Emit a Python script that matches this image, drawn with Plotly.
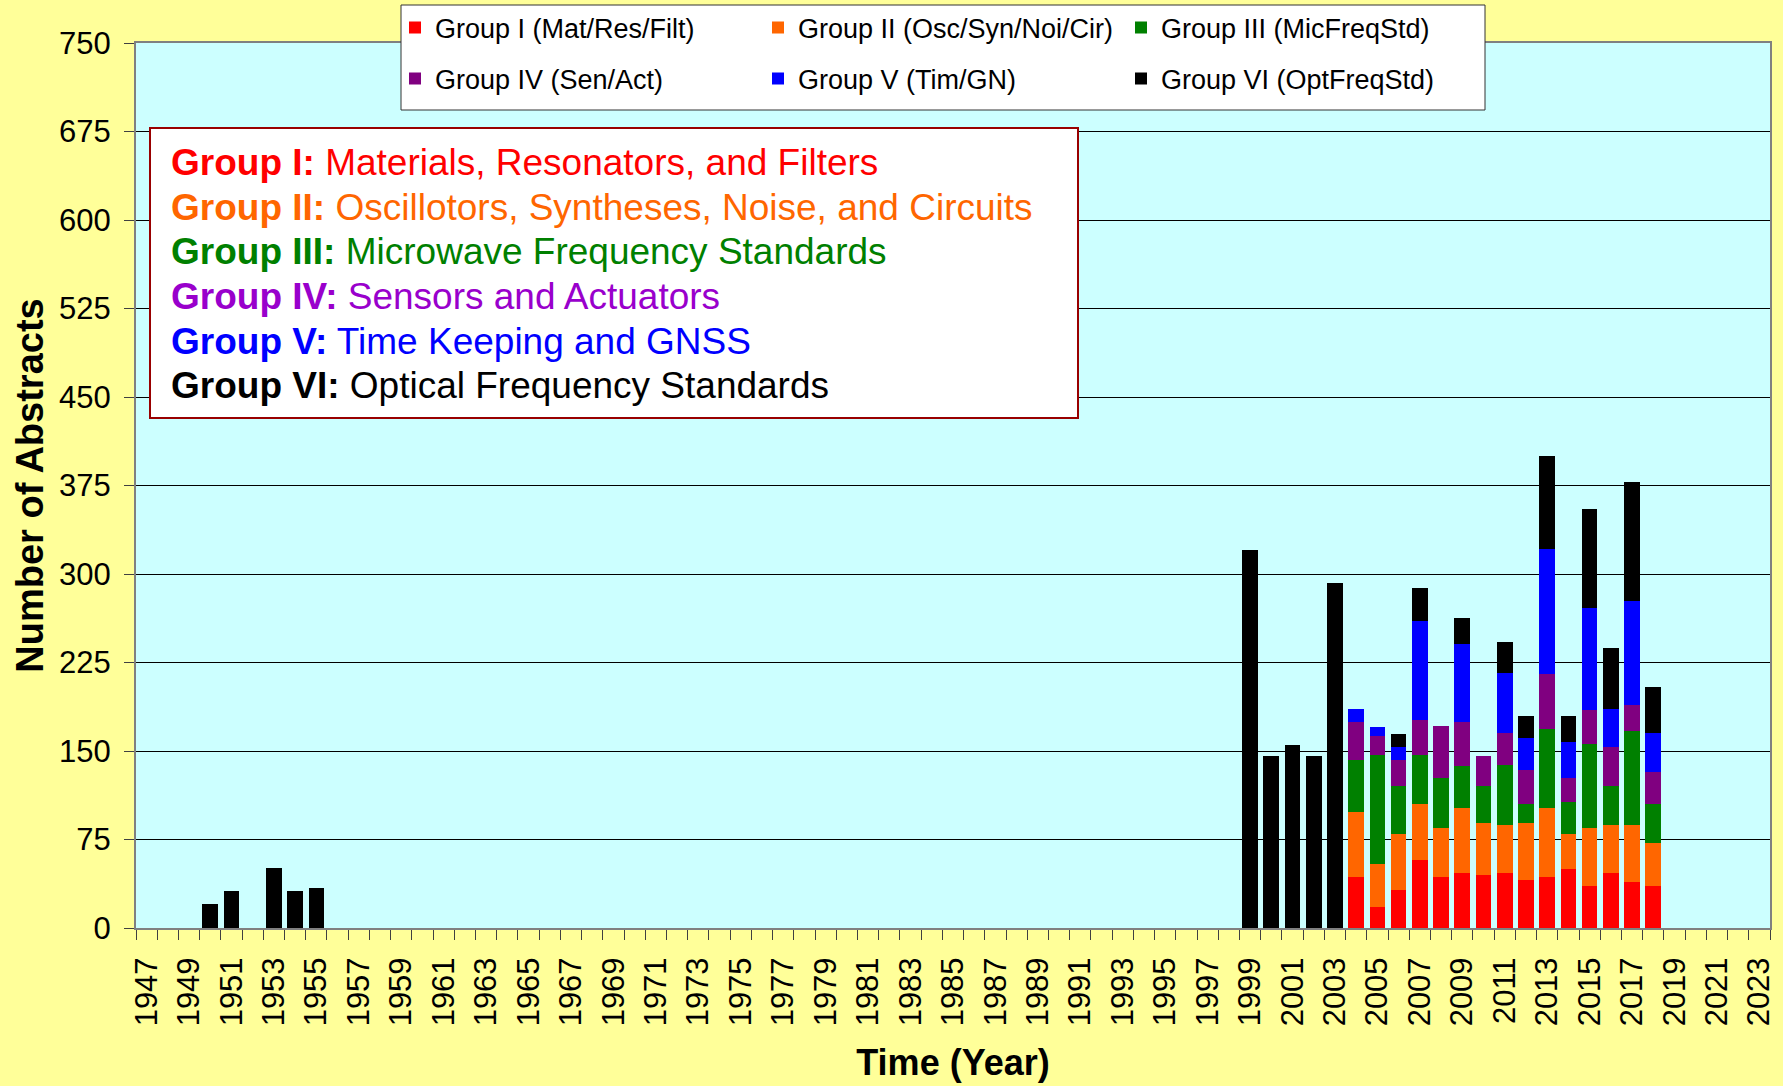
import plotly.graph_objects as go

# Abstract counts per year, one list per group (same order as `years`).
years = [1950, 1951, 1953, 1954, 1955,
         1999, 2000, 2001, 2002, 2003,
         2004, 2005, 2006, 2007, 2008, 2009, 2010, 2011,
         2012, 2013, 2014, 2015, 2016, 2017, 2018]

group_1 = [0, 0, 0, 0, 0, 0, 0, 0, 0, 0,
           43, 18, 32, 58, 43, 47, 45, 47, 41, 43, 50, 36, 47, 39, 36]
group_2 = [0, 0, 0, 0, 0, 0, 0, 0, 0, 0,
           55, 36, 48, 47, 42, 55, 44, 40, 48, 59, 30, 49, 40, 48, 36]
group_3 = [0, 0, 0, 0, 0, 0, 0, 0, 0, 0,
           44, 93, 40, 42, 42, 35, 31, 51, 16, 67, 27, 71, 33, 80, 33]
group_4 = [0, 0, 0, 0, 0, 0, 0, 0, 0, 0,
           33, 16, 22, 29, 44, 38, 26, 27, 29, 46, 20, 29, 33, 22, 27]
group_5 = [0, 0, 0, 0, 0, 0, 0, 0, 0, 0,
           11, 7, 11, 84, 0, 66, 0, 51, 27, 106, 31, 86, 33, 88, 33]
group_6 = [20, 31, 51, 31, 34, 320, 146, 155, 146, 292,
           0, 0, 11, 28, 0, 22, 0, 26, 19, 79, 22, 84, 51, 101, 39]

legend_names = ["Group I (Mat/Res/Filt)", "Group II (Osc/Syn/Noi/Cir)", "Group III (MicFreqStd)",
                "Group IV (Sen/Act)", "Group V (Tim/GN)", "Group VI (OptFreqStd)"]
bar_colors = ["#FF0000", "#FF6600", "#008000", "#800080", "#0000FF", "#000000"]

box_heads = ["Group I:", "Group II:", "Group III:", "Group IV:", "Group V:", "Group VI:"]
box_bodies = ["Materials, Resonators, and Filters",
              "Oscillotors, Syntheses, Noise, and Circuits",
              "Microwave Frequency Standards",
              "Sensors and Actuators",
              "Time Keeping and GNSS",
              "Optical Frequency Standards"]
box_colors = ["#FF0000", "#FF6600", "#008000", "#9900CC", "#0000FF", "#000000"]

tick_years = list(range(1947, 2024, 2))

FONT = "Liberation Sans, Arial, sans-serif"
W, H = 1783, 1086
L, R, T, B = 136, 13, 43, 158
PW, PH = W - L - R, H - T - B


def px_x(x):
    return (x - L) / PW


def px_y(y):
    return (H - B - y) / PH


fig = go.Figure()
series = [group_1, group_2, group_3, group_4, group_5, group_6]
for i, (vals, name, color) in enumerate(zip(series, legend_names, bar_colors)):
    fig.add_trace(go.Bar(
        x=years, y=vals, name=name,
        marker=dict(color=color, line=dict(width=0)),
        legend="legend" if i < 3 else "legend2",
    ))

legend_common = dict(
    orientation="h", xanchor="left", yanchor="middle",
    entrywidth=318, entrywidthmode="pixels",
    font=dict(family=FONT, size=27, color="black"),
    bgcolor="rgba(0,0,0,0)", borderwidth=0, traceorder="normal",
)

shapes = [
    # legend frame
    dict(type="rect", xref="paper", yref="paper",
         x0=px_x(401), x1=px_x(1485), y0=px_y(110), y1=px_y(5),
         fillcolor="white", line=dict(color="#333333", width=1), layer="above"),
    # description box
    dict(type="rect", xref="paper", yref="paper",
         x0=px_x(150), x1=px_x(1078), y0=px_y(418), y1=px_y(128),
         fillcolor="white", line=dict(color="#990000", width=2), layer="above"),
]

annotations = []
line_centers = [162, 207, 252, 296, 341, 386]
for head, body, color, yc in zip(box_heads, box_bodies, box_colors, line_centers):
    annotations.append(dict(
        xref="paper", yref="paper", x=px_x(169), y=px_y(yc),
        xanchor="left", yanchor="middle", showarrow=False,
        text=f"<b>{head}</b> {body}",
        font=dict(family=FONT, size=37, color=color),
    ))

fig.update_layout(
    width=W, height=H,
    margin=dict(l=L, r=R, t=T, b=B, autoexpand=False),
    paper_bgcolor="#FFFF99",
    plot_bgcolor="#CCFFFF",
    barmode="stack",
    bargap=0.26,
    font=dict(family=FONT, color="black"),
    legend=dict(x=px_x(395), y=px_y(28), **legend_common),
    legend2=dict(x=px_x(395), y=px_y(79), **legend_common),
    shapes=shapes,
    annotations=annotations,
    xaxis=dict(
        range=[1946.5, 2023.5],
        tickmode="array", tickvals=tick_years, ticktext=[str(y) for y in tick_years],
        tickangle=-90, ticks="", showgrid=False, zeroline=False,
        tickfont=dict(size=31), ticklabelstandoff=15,
        minor=dict(tickmode="linear", tick0=1946.5, dtick=1, ticks="outside",
                   ticklen=10, tickcolor="#404040", showgrid=False),
        showline=True, linecolor="#808080", linewidth=2, mirror=True,
        title=dict(text="<b>Time (Year)</b>", font=dict(size=36), standoff=24),
    ),
    yaxis=dict(
        range=[0, 750], dtick=75, tick0=0,
        ticks="outside", ticklen=10, tickcolor="#404040",
        tickfont=dict(size=31), ticklabelstandoff=7,
        showgrid=True, gridcolor="#000000", gridwidth=1, zeroline=False,
        showline=True, linecolor="#808080", linewidth=2, mirror=True,
        title=dict(text="<b>Number of Abstracts</b>", font=dict(size=38), standoff=4),
    ),
)

fig.write_html("out.html", config={"displayModeBar": False},
               post_script="document.body.style.margin='0px';")
